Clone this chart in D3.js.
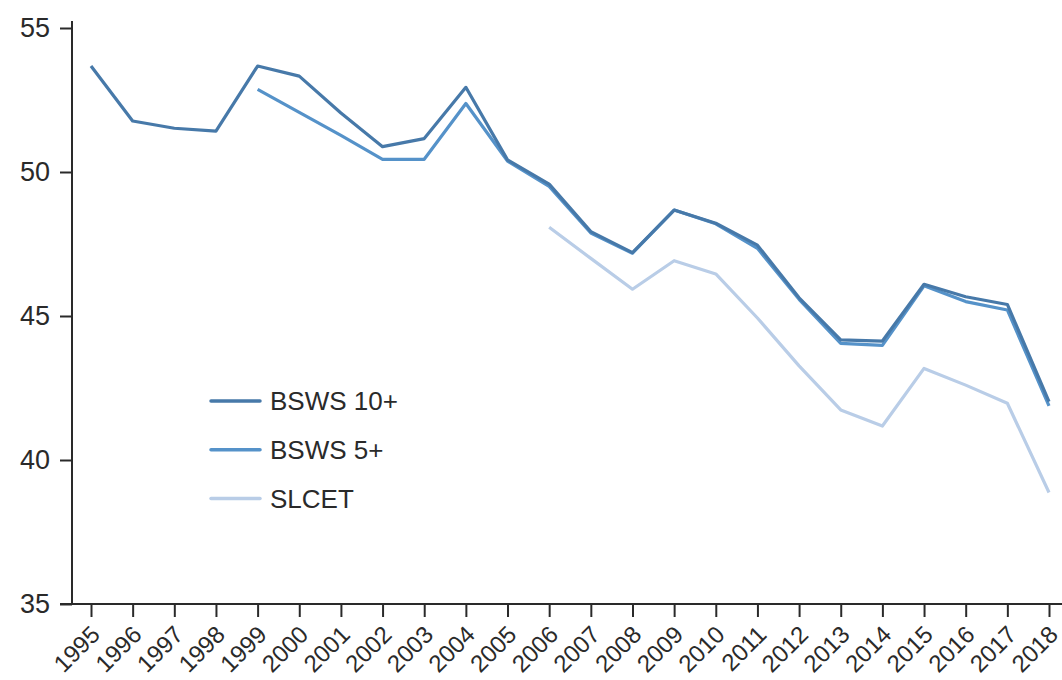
<!DOCTYPE html>
<html>
<head>
<meta charset="utf-8">
<script src="https://cdn.jsdelivr.net/npm/d3@7"></script>
<style>
  body { margin: 0; background: #fff; }
  svg { display: block; }
</style>
</head>
<body>
<svg id="chart" width="1062" height="680"></svg>
<script>
const years = [1995,1996,1997,1998,1999,2000,2001,2002,2003,2004,2005,2006,2007,2008,2009,2010,2011,2012,2013,2014,2015,2016,2017,2018];
const bsws10 = [53.68,51.77,51.52,51.42,53.68,53.33,52.05,50.88,51.16,52.94,50.42,49.58,47.93,47.2,48.68,48.22,47.46,45.63,44.17,44.13,46.1,45.67,45.4,42.03];
const bsws5  = [null,null,null,null,52.87,52.07,51.27,50.44,50.44,52.38,50.38,49.5,47.88,47.18,48.68,48.2,47.35,45.58,44.05,43.98,46.05,45.5,45.21,41.88];
const slcet  = [null,null,null,null,null,null,null,null,null,null,null,48.08,47.0,45.93,46.92,46.46,44.93,43.27,41.74,41.18,43.18,42.6,41.97,38.87];
const seriesNames = ["BSWS 10+","BSWS 5+","SLCET"];
const seriesColors = ["#4779a9","#5592c9","#b9cde7"];
const yTicks = [35,40,45,50,55];

const svg = d3.select("#chart");
const font = "'Liberation Sans', Arial, sans-serif";

const x = d3.scalePoint().domain(years).range([91, 1049]);
const y = d3.scaleLinear().domain([35, 55]).range([604, 28]);

// y axis
const yAxis = svg.append("g").attr("transform", "translate(72,0)")
  .call(d3.axisLeft(y).tickValues(yTicks).tickSize(12).tickSizeOuter(0).tickPadding(10));
yAxis.select(".domain").attr("d", "M0,21V605");
yAxis.selectAll("path, line").attr("stroke", "#2a2a2a").attr("stroke-width", 2);
yAxis.selectAll("text").attr("font-family", font).attr("font-size", "27px").attr("fill", "#2a2a2a");

// x axis
const xAxis = svg.append("g").attr("transform", "translate(0,604)")
  .call(d3.axisBottom(x).tickSize(13).tickSizeOuter(0));
xAxis.select(".domain").attr("d", "M60,0H1062");
xAxis.selectAll("path, line").attr("stroke", "#2a2a2a").attr("stroke-width", 2);
xAxis.selectAll("text")
  .attr("font-family", font).attr("font-size", "24px").attr("fill", "#2a2a2a")
  .attr("text-anchor", "end")
  .attr("x", 0).attr("y", 0).attr("dy", 0)
  .attr("transform", "translate(10,32) rotate(-45)");

const data = [bsws10, bsws5, slcet];
const line = d3.line()
  .defined(d => d.v != null)
  .x(d => x(d.year))
  .y(d => y(d.v));

// draw light first, then medium, then dark
[2,1,0].forEach(i => {
  svg.append("path")
    .datum(years.map((yr, j) => ({year: yr, v: data[i][j]})))
    .attr("fill", "none")
    .attr("stroke", seriesColors[i])
    .attr("stroke-width", 3.2)
    .attr("stroke-linejoin", "round")
    .attr("d", line);
});

// legend
const legend = svg.append("g");
seriesNames.forEach((name, i) => {
  const ly = 401 + i * 48.8;
  legend.append("line")
    .attr("x1", 211).attr("x2", 260).attr("y1", ly).attr("y2", ly)
    .attr("stroke", seriesColors[i]).attr("stroke-width", 3.5).attr("stroke-linecap", "round");
  legend.append("text")
    .attr("x", 270).attr("y", ly).attr("dy", "0.35em")
    .attr("font-family", font).attr("font-size", "26px").attr("fill", "#2a2a2a")
    .text(name);
});
</script>
</body>
</html>
